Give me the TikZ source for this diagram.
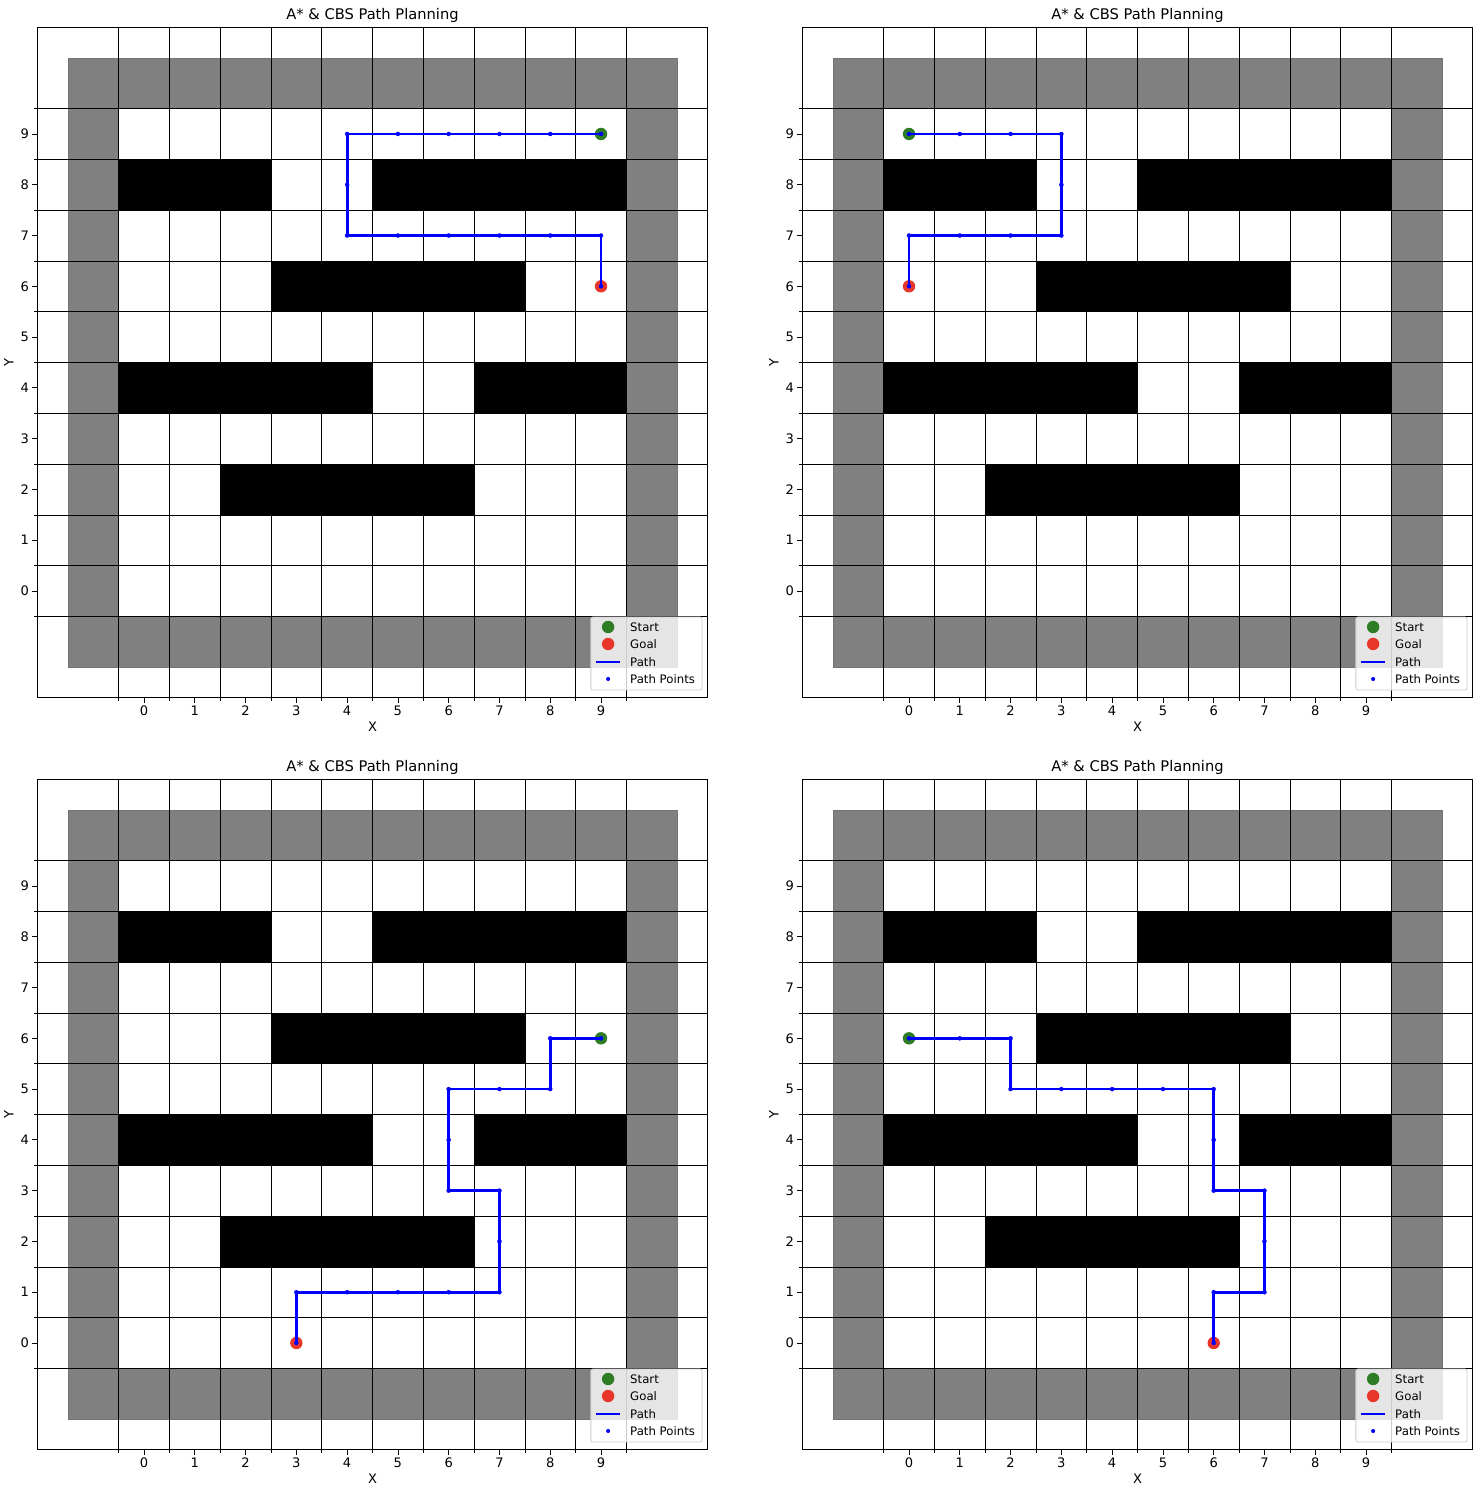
\documentclass[tikz,border=0pt]{standalone}
\usepackage{fontspec}
\setmainfont{DejaVu Sans}
\definecolor{startgreen}{RGB}{46,125,36}
\definecolor{goalred}{RGB}{232,55,42}
\definecolor{wallgray}{RGB}{128,128,128}
\tikzset{
  gridline/.style={black, line width=0.42pt},
  wallcell/.style={fill=wallgray, draw=black!55, line width=0.4pt},
  obst/.style={fill=black},
  pathline/.style={blue, line width=2.1pt, line join=round, mark=*, mark size=1.55pt,
    mark options={fill=blue, draw=blue, line width=0.2pt}},
  ticklab/.style={font=\fontsize{9.8}{11}\selectfont, inner sep=0pt},
  axlab/.style={font=\fontsize{9.8}{11}\selectfont, inner sep=0pt},
  titlelab/.style={font=\fontsize{11}{13}\selectfont, inner sep=0pt},
  leglab/.style={font=\fontsize{8.8}{10}\selectfont, inner sep=0pt, anchor=west},
  legbox/.style={fill=white, fill opacity=0.8, draw=black!20, line width=0.6pt, rounded corners=1.5pt},
  tickmark/.style={black, line width=0.6pt},
  frameline/.style={black, line width=0.8pt}
}
\newcommand{\mapbase}{%
  % border walls
  \foreach \i in {-1,...,10} {
    \path[wallcell] (\i-0.5,-1.5) rectangle (\i+0.5,-0.5);
    \path[wallcell] (\i-0.5,9.5) rectangle (\i+0.5,10.5);
  }
  \foreach \j in {0,...,9} {
    \path[wallcell] (-1.5,\j-0.5) rectangle (-0.5,\j+0.5);
    \path[wallcell] (9.5,\j-0.5) rectangle (10.5,\j+0.5);
  }
  % obstacles
  \path[obst] (-0.5,7.5) rectangle (2.5,8.5);
  \path[obst] (4.5,7.5) rectangle (9.5,8.5);
  \path[obst] (2.5,5.5) rectangle (7.5,6.5);
  \path[obst] (-0.5,3.5) rectangle (4.5,4.5);
  \path[obst] (6.5,3.5) rectangle (9.5,4.5);
  \path[obst] (1.5,1.5) rectangle (6.5,2.5);
  % grid
  \foreach \k in {-0.5,0.5,...,9.5} {
    \draw[gridline] (\k,-2.1) -- (\k,11.1);
    \draw[gridline] (-2.1,\k) -- (11.1,\k);
  }
  % ticks
  \foreach \k in {0,...,9} {
    \draw[tickmark] (\k,-2.1) -- (\k,-2.1-0.0985);
    \draw[tickmark] (-2.1,\k) -- (-2.1-0.0985,\k);
    \node[ticklab] at (\k,-2.358) {\k};
    \node[ticklab, anchor=east] at (-2.26,\k) {\k};
  }
  \foreach \k in {-0.5,0.5,...,9.5} {
    \draw[tickmark, line width=0.45pt] (\k,-2.1) -- (\k,-2.1-0.059);
    \draw[tickmark, line width=0.45pt] (-2.1,\k) -- (-2.1-0.059,\k);
  }
  \draw[frameline] (-2.1,-2.1) rectangle (11.1,11.1);
  \node[axlab] (xl) at (4.5,-2.673) {X};
  \node[axlab, rotate=90] (yl) at (-2.659,4.5) {Y};
  \node[titlelab] (tt) at (4.5,11.34) {A* \& CBS Path Planning};
}
\newcommand{\maplegend}{%
  \path[legbox] (8.80,-0.512) rectangle (10.99,-1.95);
  \fill[startgreen] (9.14,-0.709) circle (0.122);
  \fill[goalred] (9.14,-1.044) circle (0.122);
  \draw[blue, line width=2.1pt] (8.90,-1.398) -- (9.37,-1.398);
  \fill[blue] (9.14,-1.733) circle (0.04);
  \node[leglab] (ls) at (9.57,-0.709) {Start};
  \node[leglab] (lg) at (9.57,-1.044) {Goal};
  \node[leglab] (lp) at (9.57,-1.398) {Path};
  \node[leglab] (lq) at (9.57,-1.733) {Path Points};
}
\begin{document}
\begin{tikzpicture}[x=0.75pt,y=0.75pt]
\useasboundingbox (0,0) rectangle (1484,1492);
% panel 1
\begin{scope}[xshift=108pt, yshift=675.75pt, x=38.085pt, y=38.085pt]
  \mapbase
  \fill[startgreen] (9,9) circle (0.122);
  \fill[goalred] (9,6) circle (0.122);
  \draw[pathline] plot coordinates {(9,9) (8,9) (7,9) (6,9) (5,9) (4,9) (4,8) (4,7) (5,7) (6,7) (7,7) (8,7) (9,7) (9,6)};
  \maplegend
\end{scope}
% panel 2
\begin{scope}[xshift=681.75pt, yshift=675.75pt, x=38.085pt, y=38.085pt]
  \mapbase
  \fill[startgreen] (0,9) circle (0.122);
  \fill[goalred] (0,6) circle (0.122);
  \draw[pathline] plot coordinates {(0,9) (1,9) (2,9) (3,9) (3,8) (3,7) (2,7) (1,7) (0,7) (0,6)};
  \maplegend
\end{scope}
% panel 3
\begin{scope}[xshift=108pt, yshift=111.75pt, x=38.085pt, y=38.085pt]
  \mapbase
  \fill[startgreen] (9,6) circle (0.122);
  \fill[goalred] (3,0) circle (0.122);
  \draw[pathline] plot coordinates {(9,6) (8,6) (8,5) (7,5) (6,5) (6,4) (6,3) (7,3) (7,2) (7,1) (6,1) (5,1) (4,1) (3,1) (3,0)};
  \maplegend
\end{scope}
% panel 4
\begin{scope}[xshift=681.75pt, yshift=111.75pt, x=38.085pt, y=38.085pt]
  \mapbase
  \fill[startgreen] (0,6) circle (0.122);
  \fill[goalred] (6,0) circle (0.122);
  \draw[pathline] plot coordinates {(0,6) (1,6) (2,6) (2,5) (3,5) (4,5) (5,5) (6,5) (6,4) (6,3) (7,3) (7,2) (7,1) (6,1) (6,0)};
  \maplegend
\end{scope}
\end{tikzpicture}
\end{document}
